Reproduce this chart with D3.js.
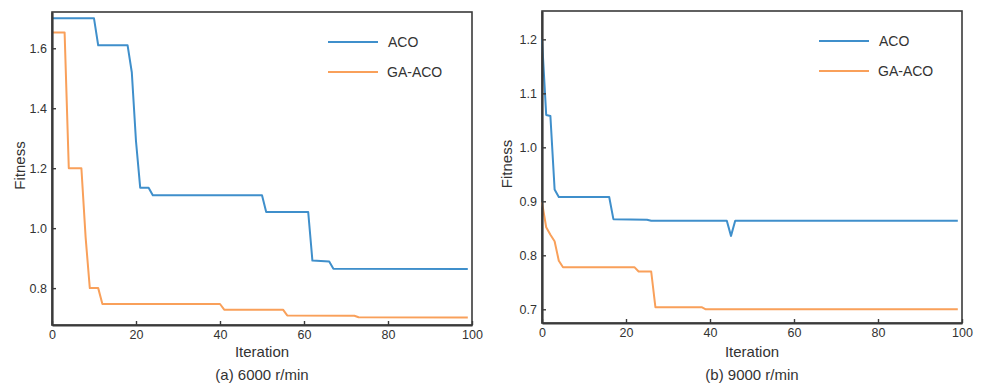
<!DOCTYPE html>
<html>
<head>
<meta charset="utf-8">
<script src="https://cdn.jsdelivr.net/npm/d3@7"></script>
<style>
  html, body { margin: 0; padding: 0; background: #fff; }
  svg { display: block; }
  text { font-family: "Liberation Sans", Arial, Helvetica, sans-serif; fill: #333; }
</style>
</head>
<body>
<svg id="chart" width="983" height="385"></svg>
<script>
// ---- Data ----
const seriesNames = ["ACO", "GA-ACO"];
const xTicks = [0, 20, 40, 60, 80, 100];

// Panel (a) 6000 r/min
const iterA_ACO = [0, 10, 11, 18, 19, 20, 21, 23, 24, 50, 51, 61, 62, 66, 67, 99];
const fitA_ACO  = [1.70, 1.70, 1.61, 1.61, 1.52, 1.29, 1.135, 1.135, 1.11, 1.11, 1.054, 1.054, 0.892, 0.889, 0.865, 0.864];
const iterA_GA  = [0, 3, 4, 7, 8, 9, 11, 12, 40, 41, 55, 56, 72, 73, 99];
const fitA_GA   = [1.653, 1.653, 1.20, 1.20, 0.97, 0.80, 0.80, 0.747, 0.747, 0.728, 0.728, 0.709, 0.708, 0.703, 0.702];
const yTicksA   = [0.8, 1.0, 1.2, 1.4, 1.6];

// Panel (b) 9000 r/min
const iterB_ACO = [0, 1, 2, 3, 4, 16, 17, 25, 26, 44, 45, 46, 99];
const fitB_ACO  = [1.20, 1.06, 1.058, 0.922, 0.908, 0.908, 0.867, 0.866, 0.864, 0.864, 0.836, 0.864, 0.864];
const iterB_GA  = [0, 1, 2, 3, 4, 5, 22, 23, 26, 27, 38, 39, 99];
const fitB_GA   = [0.898, 0.852, 0.838, 0.826, 0.79, 0.778, 0.778, 0.770, 0.770, 0.704, 0.704, 0.700, 0.700];
const yTicksB   = [0.7, 0.8, 0.9, 1.0, 1.1, 1.2];

const captions = ["(a) 6000 r/min", "(b) 9000 r/min"];
const xLabel = "Iteration";
const yLabel = "Fitness";

// ---- Styles / layout ----
const colors = ["#3f8fcb", "#f9a05a"];
const panels = [
  { left: 52, right: 472, top: 12, bottom: 325, yDomain: [0.677, 1.721], yTicks: yTicksA,
    series: [[iterA_ACO, fitA_ACO], [iterA_GA, fitA_GA]], caption: captions[0],
    legendX: 328, legendY: 42, ylabX: 20 },
  { left: 542, right: 962, top: 11, bottom: 323, yDomain: [0.6746, 1.2525], yTicks: yTicksB,
    series: [[iterB_ACO, fitB_ACO], [iterB_GA, fitB_GA]], caption: captions[1],
    legendX: 819, legendY: 41, ylabX: 507 }
];

const svg = d3.select("#chart");
svg.append("rect").attr("width", 983).attr("height", 385).attr("fill", "#fff");

panels.forEach(p => {
  const x = d3.scaleLinear().domain([0, 100]).range([p.left, p.right]);
  const y = d3.scaleLinear().domain(p.yDomain).range([p.bottom, p.top]);
  const g = svg.append("g");

  // frame
  g.append("rect")
    .attr("x", p.left).attr("y", p.top)
    .attr("width", p.right - p.left).attr("height", p.bottom - p.top)
    .attr("fill", "none").attr("stroke", "#3a3a3a").attr("stroke-width", 1.6);

  // lines
  const line = d3.line().x(d => x(d[0])).y(d => y(d[1]));
  p.series.forEach((s, i) => {
    const pts = s[0].map((it, k) => [it, s[1][k]]);
    g.append("path").datum(pts)
      .attr("d", line)
      .attr("fill", "none")
      .attr("stroke", colors[i])
      .attr("stroke-width", 2)
      .attr("stroke-linejoin", "round");
  });

  // axes
  const xAxis = d3.axisBottom(x).tickValues(xTicks).tickFormat(d3.format("d"))
    .tickSizeInner(-4).tickSizeOuter(0).tickPadding(5);
  const yAxis = d3.axisLeft(y).tickValues(p.yTicks).tickFormat(d3.format(".1f"))
    .tickSizeInner(-4).tickSizeOuter(0).tickPadding(5);

  const gx = g.append("g").attr("transform", `translate(0,${p.bottom})`).call(xAxis);
  const gy = g.append("g").attr("transform", `translate(${p.left},0)`).call(yAxis);
  [gx, gy].forEach(a => {
    a.select(".domain").attr("stroke", "#3a3a3a").attr("stroke-width", 2.2);
    a.selectAll(".tick line").attr("stroke", "#3a3a3a").attr("stroke-width", 1.4);
    a.selectAll(".tick text").style("font-size", "12.5px").attr("fill", "#333")
      .style("font-family", '"Liberation Sans", Arial, sans-serif');
  });

  // axis labels
  const cx = (p.left + p.right) / 2;
  g.append("text").attr("x", cx).attr("y", 357).attr("text-anchor", "middle")
    .style("font-size", "15px").text(xLabel);
  g.append("text").attr("x", cx).attr("y", 380).attr("text-anchor", "middle")
    .style("font-size", "15px").text(p.caption);
  const cy = (p.top + p.bottom) / 2 - 3;
  g.append("text")
    .attr("transform", `translate(${p.ylabX + 5},${cy}) rotate(-90)`)
    .attr("text-anchor", "middle")
    .style("font-size", "15px").text(yLabel);

  // legend
  seriesNames.forEach((name, i) => {
    const ly = p.legendY + i * 30;
    g.append("line").attr("x1", p.legendX).attr("x2", p.legendX + 50)
      .attr("y1", ly).attr("y2", ly)
      .attr("stroke", colors[i]).attr("stroke-width", 2);
    g.append("text").attr("x", p.legendX + 60 - (i === 1 ? 1 : 0)).attr("y", ly + 5)
      .style("font-size", "14px").text(name);
  });
});
</script>
</body>
</html>
